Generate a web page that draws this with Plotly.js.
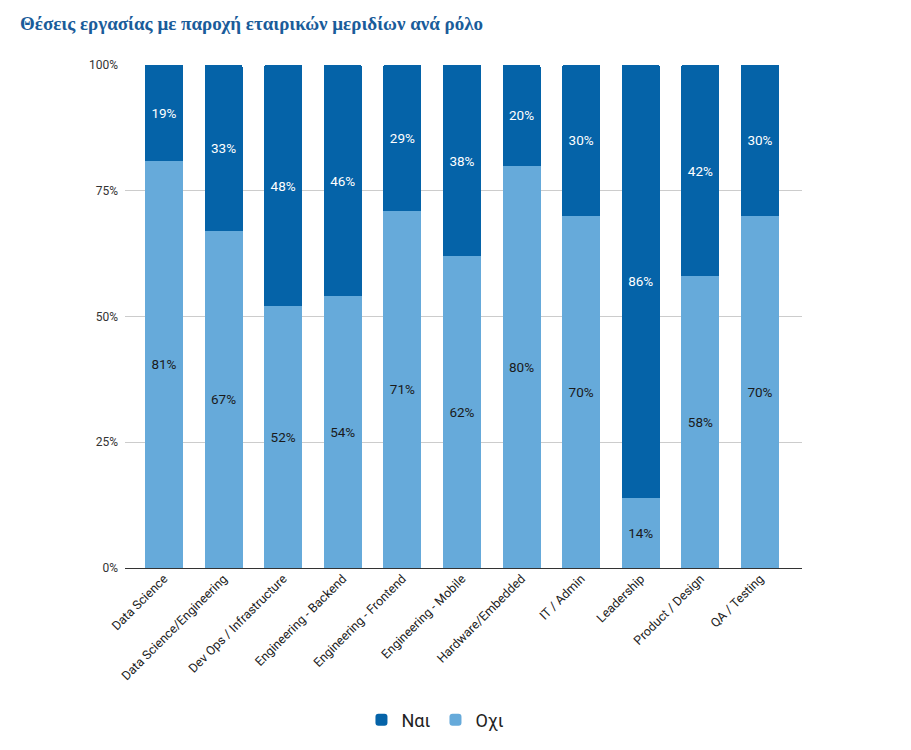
<!DOCTYPE html>
<html>
<head>
<meta charset="utf-8">
<script src="https://cdn.plot.ly/plotly-3.0.1.min.js"></script>
<style>html,body{margin:0;padding:0;background:#fff;}#chart{width:911px;height:750px;}</style>
</head>
<body>
<div id="chart"></div>
<script>
const categories = ["Data Science","Data Science/Engineering","Dev Ops / Infrastructure","Engineering - Backend","Engineering - Frontend","Engineering - Mobile","Hardware/Embedded","IT / Admin","Leadership","Product / Design","QA / Testing"];
const naiValues = [19,33,48,46,29,38,20,30,86,42,30];
const ochiValues = [81,67,52,54,71,62,80,70,14,58,70];
const yTickVals = [0,25,50,75,100];
const yTickText = ["0%","25%","50%","75%","100%"];

const traces = [
  {
    type: 'bar', name: 'Οχι', x: categories, y: ochiValues,
    text: ochiValues.map(v => v + '%'), textposition: 'inside', insidetextanchor: 'middle',
    textfont: {family: 'Roboto, Arial, sans-serif', size: 13.5, color: '#1a1a1a'},
    marker: {color: '#66aada'}, hoverinfo: 'none'
  },
  {
    type: 'bar', name: 'Ναι', x: categories, y: naiValues,
    text: naiValues.map(v => v + '%'), textposition: 'inside', insidetextanchor: 'middle',
    textfont: {family: 'Roboto, Arial, sans-serif', size: 13.5, color: '#ffffff'},
    marker: {color: '#0563a8'}, hoverinfo: 'none'
  }
];

const layout = {
  width: 911, height: 750,
  margin: {l: 125, r: 109, t: 65, b: 182},
  paper_bgcolor: '#fff', plot_bgcolor: '#fff',
  barmode: 'stack', bargap: 0.36, barcornerradius: 2,
  title: {
    text: '<b>Θέσεις εργασίας με παροχή εταιρικών μεριδίων ανά ρόλο</b>',
    font: {family: '"Liberation Serif", "Times New Roman", serif', size: 19, color: '#1a5c9a'},
    x: 20/911, xref: 'container', xanchor: 'left', y: 1 - 23/750, yref: 'container', yanchor: 'middle'
  },
  xaxis: {
    type: 'category', tickangle: -45, showgrid: false,
    range: [-0.654, 10.705],
    tickfont: {family: 'Roboto, Arial, sans-serif', size: 12.5, color: '#222'},
    showline: false, ticks: ''
  },
  yaxis: {
    range: [0, 100], tickvals: yTickVals, ticktext: yTickText,
    showgrid: true, gridcolor: '#cccccc', gridwidth: 1,
    zeroline: true, zerolinecolor: '#333', zerolinewidth: 1,
    tickfont: {family: 'Roboto, Arial, sans-serif', size: 12, color: '#333'},
    ticks: '', ticklen: 0, ticklabelstandoff: 6
  },
  showlegend: true,
  legend: {
    orientation: 'h', x: 0.478, xanchor: 'center', xref: 'container', y: 0.04, yref: 'container', yanchor: 'middle',
    traceorder: 'reversed',
    font: {family: 'Roboto, Arial, sans-serif', size: 18, color: '#222'}
  }
};

Plotly.newPlot('chart', traces, layout, {displayModeBar: false, staticPlot: true});
</script>
</body>
</html>
